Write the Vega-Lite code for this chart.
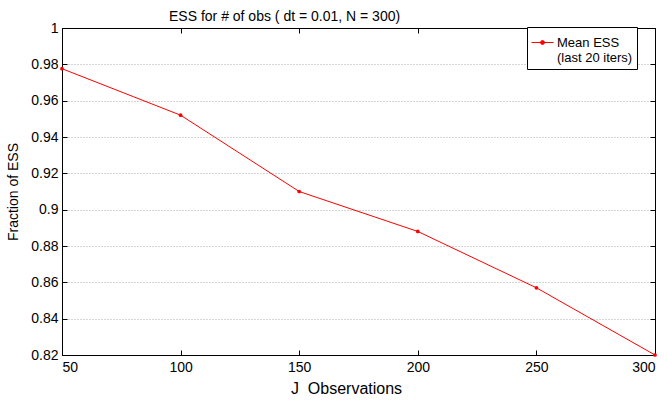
{
  "$schema": "https://vega.github.io/schema/vega-lite/v6.json",
  "width": 593,
  "height": 327,
  "autosize": "none",
  "padding": {"left": 62, "top": 28, "right": 13, "bottom": 46},
  "background": "white",
  "config": {
    "font": "Liberation Sans",
    "view": {"stroke": "black", "strokeWidth": 1},
    "axis": {"labelFont": "Liberation Sans", "titleFont": "Liberation Sans", "labelColor": "black", "titleColor": "black", "domainColor": "black", "tickColor": "black", "titleFontWeight": "normal"}
  },
  "title": {
    "text": "ESS for # of obs ( dt = 0.01, N = 300)",
    "fontSize": 14,
    "fontWeight": "normal",
    "font": "Liberation Sans",
    "anchor": "start",
    "frame": "group",
    "dx": 107,
    "offset": -3,
    "color": "black"
  },
  "data": {
    "values": [
      {"obs": 50, "ess": 0.9776, "series": "Mean ESS"},
      {"obs": 100, "ess": 0.952, "series": "Mean ESS"},
      {"obs": 150, "ess": 0.910, "series": "Mean ESS"},
      {"obs": 200, "ess": 0.888, "series": "Mean ESS"},
      {"obs": 250, "ess": 0.857, "series": "Mean ESS"},
      {"obs": 300, "ess": 0.820, "series": "Mean ESS"}
    ]
  },
  "resolve": {"axis": {"x": "independent", "y": "independent"}},
  "layer": [
    {
      "mark": {"type": "line", "strokeWidth": 1, "point": {"filled": true, "size": 14}},
      "encoding": {
        "x": {
          "field": "obs", "type": "quantitative",
          "scale": {"domain": [50, 300], "nice": false, "zero": false},
          "axis": {
            "orient": "bottom",
            "values": [50, 100, 150, 200, 250, 300],
            "title": "J\u00a0\u00a0Observations",
            "titleFontSize": 16,
            "titleX": 284,
            "titlePadding": 6,
            "labelFontSize": 14,
            "labelPadding": 10,
            "tickSize": -5,
            "grid": false,
            "encode": {"labels": {"update": {"align": {"signal": "datum.value === 50 ? 'left' : 'center'"}, "dx": {"signal": "datum.value === 50 ? -2 : 0"}}}}
          }
        },
        "y": {
          "field": "ess", "type": "quantitative",
          "scale": {"domain": [0.82, 1], "nice": false, "zero": false},
          "axis": {
            "orient": "left",
            "values": [0.82, 0.84, 0.86, 0.88, 0.9, 0.92, 0.94, 0.96, 0.98, 1],
            "format": "~g",
            "title": "Fraction of ESS",
            "titleFontSize": 14,
            "titlePadding": 10,
            "labelFontSize": 14,
            "labelPadding": 9,
            "tickSize": -5,
            "grid": true,
            "gridColor": "#aaaaaa",
            "gridDash": [1, 2],
            "gridWidth": 1
          }
        },
        "color": {
          "field": "series", "type": "nominal",
          "scale": {"range": ["#ff0000"]},
          "legend": {
            "orient": "none",
            "legendX": 465,
            "legendY": -1,
            "title": null,
            "strokeColor": "black",
            "fillColor": "white",
            "padding": 4,
            "labelFontSize": 13,
            "labelFont": "Liberation Sans",
            "labelColor": "black",
            "labelExpr": "['Mean ESS', '(last 20 iters)']",
            "labelOffset": 3,
            "symbolType": "M-1,0H1M0.18,0A0.18,0.18 0 1 1 -0.18,0A0.18,0.18 0 1 1 0.18,0",
            "symbolSize": 484,
            "symbolStrokeWidth": 1,
            "symbolFillColor": "transparent",
            "symbolStrokeColor": "#ff0000"
          }
        }
      }
    },
    {
      "mark": {"type": "point", "opacity": 0},
      "encoding": {
        "x": {"field": "obs", "type": "quantitative", "axis": {"orient": "top", "values": [50, 100, 150, 200, 250, 300], "labels": false, "title": null, "tickSize": -5, "grid": false}},
        "y": {"field": "ess", "type": "quantitative", "axis": {"orient": "right", "values": [0.82, 0.84, 0.86, 0.88, 0.9, 0.92, 0.94, 0.96, 0.98, 1], "labels": false, "title": null, "tickSize": -5, "grid": false}}
      }
    }
  ]
}
